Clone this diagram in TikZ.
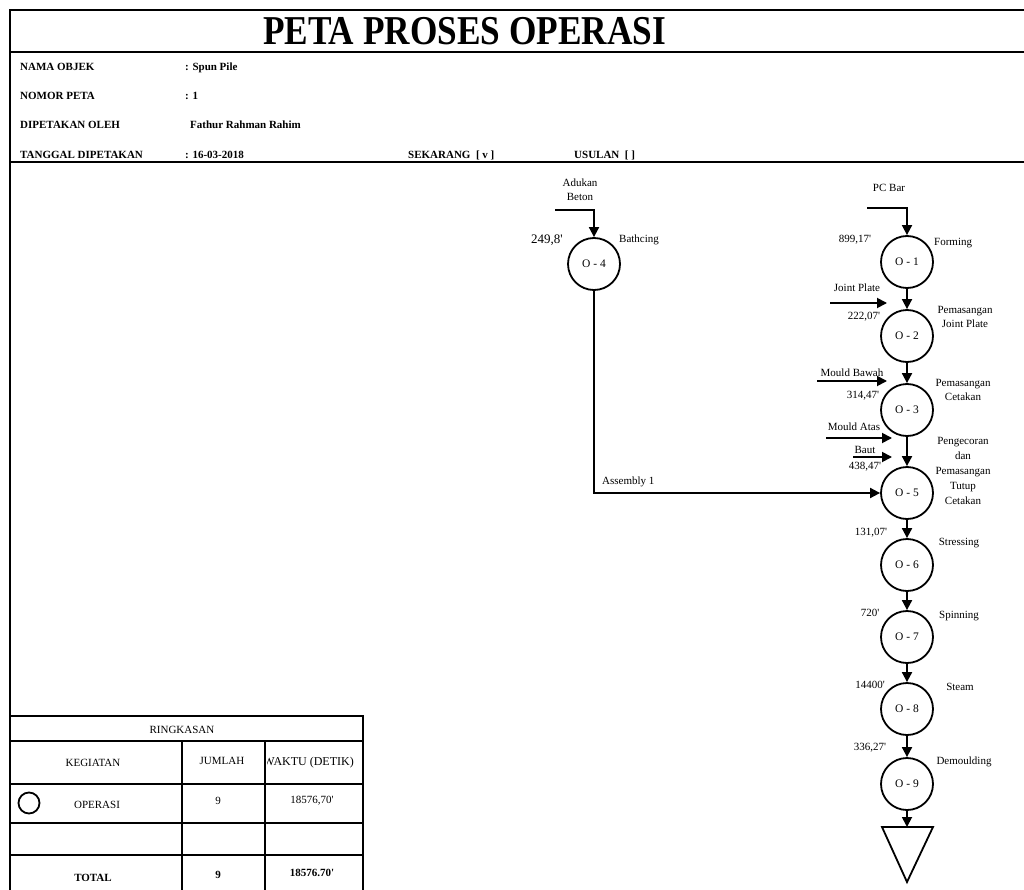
\documentclass[tikz,border=0pt]{standalone}
\usepackage{fontspec}
\setmainfont{Liberation Serif}
\usetikzlibrary{arrows.meta}
\newcommand{\qq}{\textquotesingle}
\begin{document}
\begin{tikzpicture}[x=1pt,y=-1pt,
  frame/.style={line width=2pt},
  op/.style={circle,draw,line width=1.8pt,minimum size=52pt,inner sep=0pt,font=\fontsize{11.5}{12}\selectfont},
  flow/.style={line width=1.8pt,-{Triangle[length=10pt,width=10pt]}},
  lbl/.style={inner sep=0pt,font=\fontsize{11}{14}\selectfont,align=center},
  hdr/.style={anchor=base west,inner sep=0pt,font=\fontsize{11}{12}\selectfont\bfseries},
  tbl/.style={inner sep=0pt,font=\fontsize{11}{13}\selectfont},
  tblb/.style={inner sep=0pt,font=\fontsize{11}{13}\selectfont\bfseries},
]
\useasboundingbox (0,0) rectangle (1024,890);
\fill[white] (0,0) rectangle (1024,890);
% frame
\draw[frame] (1024,10) -- (10,10) -- (10,890);
\draw[frame] (10,52) -- (1024,52);
\draw[frame] (10,162) -- (1024,162);
% title
\node[inner sep=0pt,anchor=base] (title) at (464.5,45) {\scalebox{0.86}[1]{\fontsize{41}{41}\selectfont\bfseries PETA PROSES OPERASI}};
% header
\node[hdr] (h1) at (20,71) {NAMA OBJEK};
\node[hdr] (h1v) at (185,71) {: Spun Pile};
\node[hdr] (h2) at (20,100) {NOMOR PETA};
\node[hdr] (h2v) at (185,100) {: 1};
\node[hdr] (h3) at (20,129) {DIPETAKAN OLEH};
\node[hdr] (h3v) at (190,129) {Fathur Rahman Rahim};
\node[hdr] (h4) at (20,159) {TANGGAL DIPETAKAN};
\node[hdr] (h4v) at (185,159) {: 16-03-2018};
\node[hdr] (sek) at (408,159) {SEKARANG\ \ [ v ]};
\node[hdr] (usu) at (574,159) {USULAN\ \ [ ]};
% left branch
\node[op] (o4) at (594,264) {O - 4};
\node[lbl] (adk) at (580,190) {Adukan\\Beton};
\coordinate (adks) at (555,210);
\draw[flow] (adks) -| (o4.north);
\node[inner sep=0pt,font=\fontsize{13}{14}\selectfont] (t4) at (547,240) {249,8\qq};
\node[lbl,anchor=west] (d4) at (619,240) {Bathcing};
% right column
\node[op] (o1) at (907,262) {O - 1};
\node[op] (o2) at (907,336) {O - 2};
\node[op] (o3) at (907,410) {O - 3};
\node[op] (o5) at (907,493) {O - 5};
\node[op] (o6) at (907,565) {O - 6};
\node[op] (o7) at (907,637) {O - 7};
\node[op] (o8) at (907,709) {O - 8};
\node[op] (o9) at (907,784) {O - 9};
\coordinate (tri) at (907,827);
\draw[line width=1.8pt,line join=miter] (882,827) -- (933,827) -- (907,882) -- cycle;
\draw[flow] (o1) -- (o2);
\draw[flow] (o2) -- (o3);
\draw[flow] (o3) -- (o5);
\draw[flow] (o5) -- (o6);
\draw[flow] (o6) -- (o7);
\draw[flow] (o7) -- (o8);
\draw[flow] (o8) -- (o9);
\draw[flow] (o9) -- (tri);
% inputs
\node[lbl] (pcb) at (889,188) {PC Bar};
\coordinate (pcbs) at (867,208);
\draw[flow] (pcbs) -| (o1.north);
\node[lbl] (jp) at (857,288) {Joint Plate};
\coordinate (jps) at (830,303); \coordinate (jpe) at (887,303);
\draw[flow] (jps) -- (jpe);
\node[lbl] (mb) at (852,373) {Mould Bawah};
\coordinate (mbs) at (817,381); \coordinate (mbe) at (887,381);
\draw[flow] (mbs) -- (mbe);
\node[lbl] (ma) at (854,427) {Mould Atas};
\coordinate (mas) at (826,438); \coordinate (mae) at (892,438);
\draw[flow] (mas) -- (mae);
\node[lbl] (bt) at (865,450) {Baut};
\coordinate (bts) at (853,457); \coordinate (bte) at (892,457);
\draw[flow] (bts) -- (bte);
% assembly
\draw[flow] (o4.south) |- (o5.west);
\node[lbl,anchor=west] (asm) at (602,482) {Assembly 1};
% times
\node[lbl] (t1) at (855,240) {899,17\qq};
\node[lbl] (t2) at (864,317) {222,07\qq};
\node[lbl] (t3) at (863,396) {314,47\qq};
\node[lbl] (t5) at (865,467) {438,47\qq};
\node[lbl] (t6) at (871,533) {131,07\qq};
\node[lbl] (t7) at (870,613) {720\qq};
\node[lbl] (t8) at (870,685) {14400\qq};
\node[lbl] (t9) at (870,748) {336,27\qq};
% descriptions
\node[lbl,anchor=west] (d1) at (934,243) {Forming};
\node[lbl] (d2) at (965,317) {Pemasangan\\Joint Plate};
\node[lbl] (d3) at (963,390) {Pemasangan\\Cetakan};
\node[lbl,font=\fontsize{11}{15}\selectfont] (d5) at (963,471) {Pengecoran\\dan\\Pemasangan\\Tutup\\Cetakan};
\node[lbl] (d6) at (959,543) {Stressing};
\node[lbl] (d7) at (959,616) {Spinning};
\node[lbl] (d8) at (960,687) {Steam};
\node[lbl] (d9) at (964,762) {Demoulding};
% summary table
\draw[frame] (10,716) -- (363,716) -- (363,890);
\draw[frame] (10,741) -- (363,741);
\draw[frame] (10,784) -- (363,784);
\draw[frame] (10,823) -- (363,823);
\draw[frame] (10,855) -- (363,855);
\draw[frame] (182,741) -- (182,890);
\draw[frame] (265,741) -- (265,890);
\node[tbl] (rk) at (182,730) {RINGKASAN};
\node[tbl] (keg) at (93,763) {KEGIATAN};
\node[tbl] (jml) at (222,761) {JUMLAH};
\begin{scope}
\clip (267,742) rectangle (362,783);
\node[tbl,anchor=east,font=\fontsize{12}{13}\selectfont] (wkt) at (354,763) {WAKTU (DETIK)};
\end{scope}
\node[draw,circle,line width=1.8pt,minimum size=21pt,inner sep=0pt] (sym) at (29,803) {};
\node[tbl] (opr) at (97,805) {OPERASI};
\node[tbl] (n9) at (218,801) {9};
\node[tbl] (w1) at (312,801) {18576,70\qq};
\node[tblb] (tot) at (93,878) {TOTAL};
\node[tblb] (n9b) at (218,875) {9};
\node[tblb] (w2) at (312,873) {18576.70\qq};
\end{tikzpicture}
\end{document}
